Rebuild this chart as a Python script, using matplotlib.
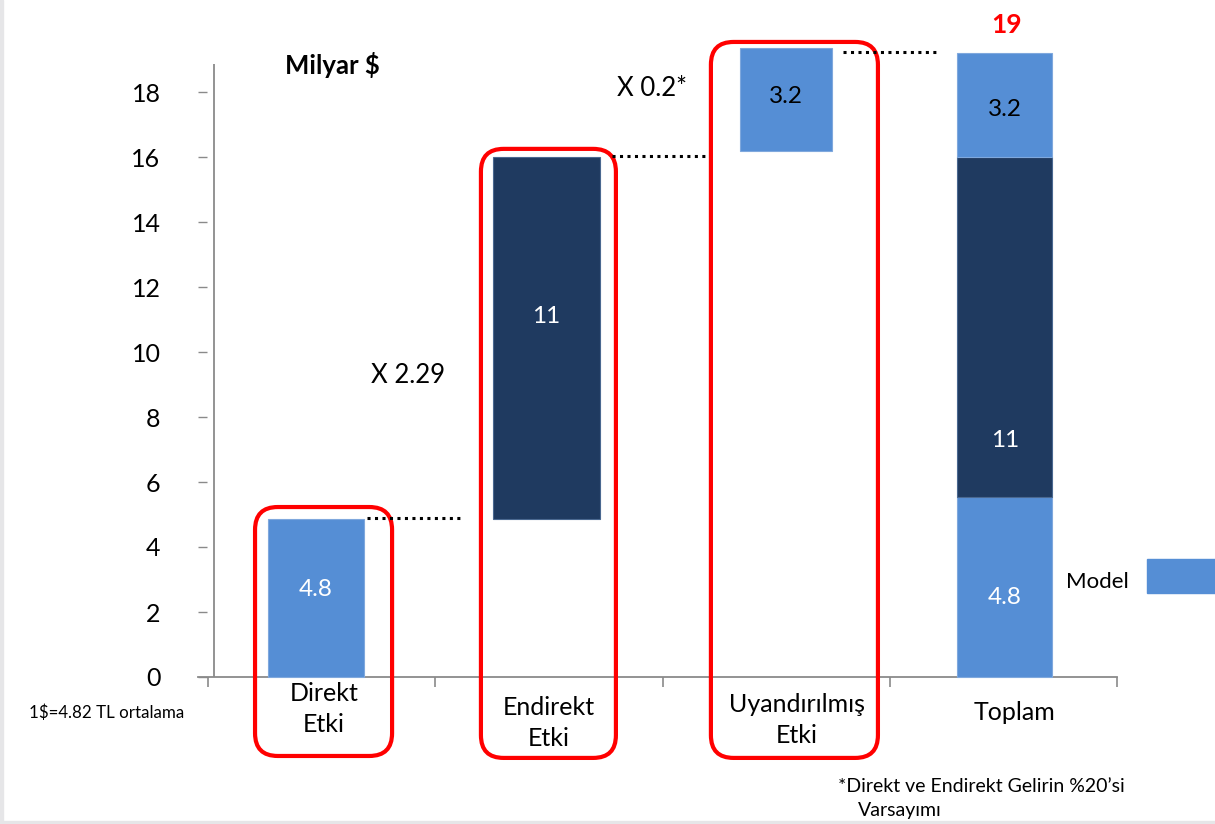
import matplotlib
matplotlib.use("Agg")
import matplotlib.pyplot as plt
from matplotlib.patches import FancyBboxPatch, Rectangle

plt.rcParams['font.family'] = ['Lato', 'DejaVu Sans']

# ---- data ----
categories = ["Direkt\nEtki", "Endirekt\nEtki", "Uyandırılmış\nEtki", "Toplam"]
step_bottoms = [0.0, 4.85, 16.2]
step_heights = [4.85, 11.15, 3.15]
step_labels = ["4.8", "11", "3.2"]
total_segments = [5.55, 10.45, 3.2]
total_labels = ["4.8", "11", "3.2"]
total_value = "19"
multipliers = ["X 2.29", "X 0.2*"]
yticks = [0, 2, 4, 6, 8, 10, 12, 14, 16, 18]
unit_label = "Milyar $"
fx_note = "1$=4.82 TL ortalama"
footnote = ["*Direkt ve Endirekt Gelirin %20\u2019si", "Varsay\u0131m\u0131"]
legend_label = "Model"

LIGHT = "#558ED5"
DARK = "#1F3A60"
GRAY = "#8A8A8A"
RED = "#FF0000"

W, H = 1215, 824
fig = plt.figure(figsize=(W / 100, H / 100), dpi=100)
fig.patch.set_facecolor("white")
fig.patches.append(Rectangle((0, 0), 3 / W, 1, transform=fig.transFigure, color="#E6E6E8", zorder=0))
fig.patches.append(Rectangle((0, 0), 1, 3 / H, transform=fig.transFigure, color="#E6E6E8", zorder=0))

ax = fig.add_axes([198 / W, 147 / H, (1117 - 198) / W, (677 - 64) / H])
ax.patch.set_visible(False)
ax.set_xlim(-0.5 - 10 / 227.25, 3.5)
ax.set_ylim(0, (677 - 64) / 32.5)

for s in ["top", "right", "left"]:
    ax.spines[s].set_visible(False)
ax.spines["bottom"].set_color(GRAY)
ax.spines["bottom"].set_linewidth(1.3)
ax.axvline(-0.5 + 6 / 227.25, color=GRAY, lw=1.3, zorder=1)

ax.set_yticks(yticks)
ax.set_yticklabels([str(v) for v in yticks])
ax.tick_params(axis="y", direction="in", length=6.5, width=1, color=GRAY,
               labelsize=18, pad=27)
ax.set_xticks([])
ax.set_xticks([-0.5, 0.5, 1.5, 2.5, 3.5], minor=True)
ax.tick_params(axis="x", which="minor", direction="out", length=7.2, width=1.2, color=GRAY)

# ---- step bars ----
xs = [0 - 0.025, 1 - 0.011, 2 + 0.042]
widths = [0.42, 0.47, 0.405]
colors = [LIGHT, DARK, LIGHT]
edges = ["#7FA8DD", "#4A6890", "#7FA8DD"]
bars = ax.bar(xs, step_heights, width=widths, bottom=step_bottoms, color=colors,
              edgecolor=edges, linewidth=0.8, zorder=3)
for b in bars:
    b.set_clip_on(False)

# ---- total stacked bar ----
tx = 3 + 0.006
tw = 0.42
bot = 0.0
tcolors = [LIGHT, DARK, LIGHT]
for h, c, e in zip(total_segments, tcolors, edges):
    bb = ax.bar(tx, h, width=tw, bottom=bot, color=c, edgecolor=e, linewidth=0.8, zorder=3)
    for p in bb:
        p.set_clip_on(False)
    bot += h

# ---- bar labels ----
lab_kw = dict(ha="center", va="center", fontsize=17.5, zorder=5)
ax.text(xs[0], 2.68, step_labels[0], color="white", **lab_kw)
ax.text(xs[1], 11.08, step_labels[1], color="white", **lab_kw)
ax.text(xs[2], 17.85, step_labels[2], color="black", **lab_kw)
ax.text(tx, 2.46, total_labels[0], color="white", **lab_kw)
ax.text(tx, 7.29, total_labels[1], color="white", **lab_kw)
ax.text(tx, 17.45, total_labels[2], color="black", **lab_kw)
ax.text(3.016, 20.06, total_value, color=RED, ha="center", va="center",
        fontsize=19, fontweight="bold")

# ---- category labels ----
cat_pos = [(0.01, -0.98), (1.0, -1.42), (2.09, -1.32), (3.05, -1.08)]
for (cx, cy), lab in zip(cat_pos, categories):
    ax.text(cx, cy, lab, ha="center", va="center", fontsize=18, linespacing=1.45)

# ---- rounded highlight boxes ----
boxes = [(-0.293, 0.310, -2.43, 5.23), (0.701, 1.295, -2.49, 16.25), (1.713, 2.448, -2.49, 19.54)]
for x0, x1, y0, y1 in boxes:
    p = FancyBboxPatch((x0, y0), x1 - x0, y1 - y0,
                       boxstyle="round,pad=0,rounding_size=0.1",
                       mutation_aspect=227.25 / 32.5,
                       fill=False, edgecolor=RED, linewidth=3.0, zorder=4, clip_on=False)
    ax.add_patch(p)

# ---- dotted connectors ----
dots = [(0.200, 0.622, 4.89), (1.278, 1.696, 16.03), (2.294, 2.712, 19.23)]
for x0, x1, yv in dots:
    ax.plot([x0, x1], [yv, yv], color="black", lw=2.2, linestyle=(0, (1, 1.45)),
            clip_on=False, zorder=4, solid_capstyle="butt", dash_capstyle="butt")

# ---- annotations ----
ax.text(0.046, 18.83, unit_label, ha="center", va="center", fontsize=18.5, fontweight="bold")
ax.text(0.38, 9.29, multipliers[0], ha="center", va="center", fontsize=18.5)
ax.text(1.454, 18.12, multipliers[1], ha="center", va="center", fontsize=18.5)
ax.text(-0.944, -1.11, fx_note, ha="center", va="center", fontsize=12.2)
ax.text(2.272, -3.38, footnote[0], ha="left", va="center", fontsize=14)
ax.text(2.36, -4.12, footnote[1], ha="left", va="center", fontsize=14)

# ---- legend-like marker ----
ax.text(3.412, 2.92, legend_label, ha="center", va="center", fontsize=16)
ax.add_patch(Rectangle((3.632, 2.585), 0.4, 1.045, color=LIGHT, clip_on=False, zorder=3))

fig.savefig("out.png", dpi=100)
